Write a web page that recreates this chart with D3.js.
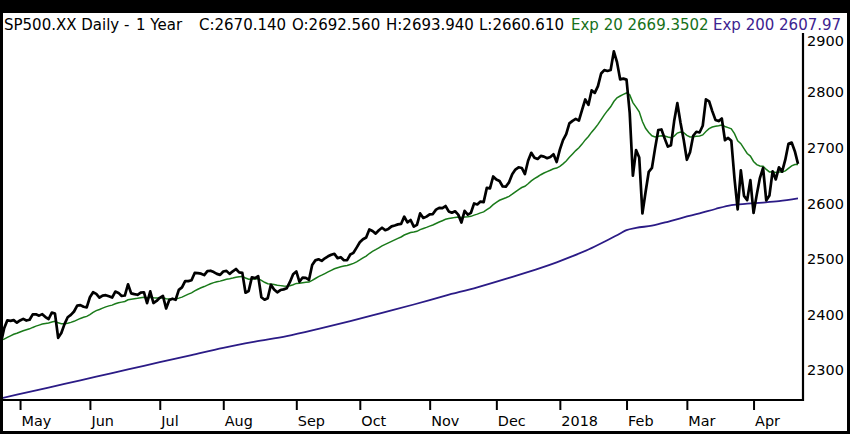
<!DOCTYPE html>
<html>
<head>
<meta charset="utf-8">
<script src="https://cdn.jsdelivr.net/npm/d3@7"></script>
<style>
  body { margin: 0; background: #000; }
  svg { display: block; }
  text { font-family: "DejaVu Sans", sans-serif; }
</style>
</head>
<body>
<script>
// daily closes, 21 Apr 2017 .. 20 Apr 2018 (one per trading session)
var closes = [
  2348.69, 2374.15, 2388.61, 2387.45, 2388.77, 2384.20,
  2388.33, 2391.17, 2388.13, 2389.52, 2399.29, 2399.38, 2396.92, 2399.63, 2394.44, 2390.90, 2402.32, 2400.67, 2357.03, 2365.72, 2381.73, 2394.02, 2398.42, 2404.39, 2415.07, 2415.82, 2412.91, 2411.80,
  2430.06, 2439.07, 2436.10, 2429.33, 2433.14, 2433.79, 2431.77, 2429.39, 2440.35, 2437.92, 2432.46, 2433.15, 2453.46, 2437.03, 2435.61, 2434.50, 2438.30, 2439.07, 2419.38, 2440.69, 2419.70, 2423.41,
  2429.01, 2432.54, 2409.75, 2425.18, 2427.43, 2425.53, 2443.25, 2447.83, 2459.27, 2459.14, 2460.61, 2473.83, 2473.45, 2472.54, 2469.91, 2477.13, 2477.83, 2475.42, 2472.10, 2470.30,
  2476.35, 2477.57, 2472.16, 2476.83, 2480.91, 2474.92, 2474.02, 2438.21, 2441.32, 2465.84, 2464.61, 2468.11, 2430.01, 2425.55, 2428.37, 2452.51, 2444.04, 2438.97, 2443.05, 2444.24, 2446.30, 2457.59, 2471.65,
  2476.55, 2457.85, 2465.54, 2465.10, 2461.43, 2488.11, 2496.48, 2498.37, 2495.62, 2500.23, 2503.87, 2506.65, 2508.24, 2500.60, 2502.22, 2496.66, 2496.84, 2507.04, 2510.06, 2519.36,
  2529.12, 2534.58, 2537.74, 2552.07, 2549.33, 2544.73, 2550.64, 2555.24, 2550.93, 2553.17, 2557.64, 2559.36, 2561.26, 2562.10, 2575.21, 2564.98, 2569.13, 2557.15, 2560.40, 2581.07, 2572.83, 2575.26,
  2579.36, 2579.85, 2587.84, 2591.13, 2590.64, 2594.38, 2584.62, 2582.30, 2584.84, 2578.87, 2564.62, 2585.64, 2578.85, 2582.14, 2599.03, 2597.08, 2602.42, 2601.42, 2627.04, 2626.07, 2647.58,
  2642.22, 2639.44, 2629.57, 2629.27, 2636.98, 2651.50, 2659.99, 2664.11, 2662.85, 2652.01, 2675.81, 2690.16, 2681.47, 2679.25, 2684.57, 2683.34, 2680.50, 2682.62, 2687.54, 2673.61,
  2695.81, 2713.06, 2723.99, 2743.15, 2747.71, 2751.29, 2748.23, 2767.56, 2786.24, 2776.42, 2802.56, 2798.03, 2810.30, 2832.97, 2839.13, 2837.54, 2839.25, 2872.87, 2853.53, 2822.43, 2823.81,
  2821.98, 2762.13, 2648.94, 2695.14, 2681.66, 2581.00, 2619.55, 2656.00, 2662.94, 2698.63, 2731.20, 2732.22, 2716.26, 2701.33, 2703.96, 2747.30, 2779.60, 2744.28, 2713.83,
  2677.67, 2691.25, 2720.94, 2728.12, 2726.80, 2738.97, 2786.57, 2783.02, 2765.31, 2749.48, 2747.33, 2752.01, 2712.92, 2716.94, 2711.93, 2643.69, 2588.26, 2658.55, 2612.62, 2605.00, 2640.87,
  2581.88, 2614.45, 2644.69, 2662.84, 2604.47, 2613.16, 2656.87, 2642.19, 2663.99, 2656.30, 2677.84, 2706.39, 2708.64, 2693.13, 2670.14
];

// Exp 20, one value per session
var exp20 = [
  2352.6, 2354.6, 2357.8, 2360.6, 2363.3, 2365.3, 2367.5, 2369.8, 2371.5, 2373.2,
  2375.7, 2378.0, 2379.8, 2381.7, 2382.9, 2383.7, 2385.4, 2386.9, 2384.0, 2382.3,
  2382.2, 2383.3, 2384.8, 2386.7, 2389.4, 2391.9, 2393.9, 2395.6, 2398.9, 2402.7,
  2405.9, 2408.1, 2410.5, 2412.7, 2414.5, 2415.9, 2418.3, 2420.2, 2421.3, 2422.4,
  2425.4, 2426.5, 2427.4, 2428.1, 2429.0, 2430.0, 2429.0, 2430.1, 2429.1, 2428.6,
  2428.6, 2429.0, 2427.2, 2427.0, 2427.0, 2426.9, 2428.5, 2430.3, 2433.1, 2435.6,
  2438.0, 2441.4, 2444.4, 2447.1, 2449.3, 2451.9, 2454.4, 2456.4, 2457.9, 2459.1,
  2460.7, 2462.3, 2463.3, 2464.6, 2466.1, 2466.9, 2467.6, 2464.8, 2462.6, 2462.9,
  2463.0, 2463.5, 2460.3, 2457.0, 2454.3, 2454.1, 2453.1, 2451.8, 2451.0, 2450.3,
  2450.0, 2450.7, 2452.7, 2455.0, 2455.3, 2456.2, 2457.0, 2457.4, 2460.4, 2463.8,
  2467.1, 2469.8, 2472.7, 2475.7, 2478.6, 2481.4, 2483.3, 2485.1, 2486.2, 2487.2,
  2489.1, 2491.1, 2493.8, 2497.2, 2500.8, 2504.3, 2508.8, 2512.7, 2515.7, 2519.1,
  2522.5, 2525.2, 2527.9, 2530.7, 2533.4, 2536.1, 2538.6, 2542.1, 2544.3, 2546.6,
  2547.6, 2548.8, 2551.9, 2553.9, 2555.9,
  2558.1, 2560.2, 2562.8, 2565.5, 2567.9, 2570.4, 2571.8, 2572.8, 2573.9, 2574.4,
  2573.5, 2574.7, 2575.1, 2575.8, 2578.0, 2579.8, 2582.0, 2583.8, 2587.9, 2591.5,
  2596.8, 2601.1, 2604.7, 2607.1, 2609.2, 2611.8, 2615.6, 2619.8, 2624.0, 2627.7,
  2630.0, 2634.4, 2639.7, 2643.7, 2647.1, 2650.7, 2653.8, 2656.3, 2658.8, 2661.5, 2662.7,
  2665.9, 2670.4, 2675.5, 2682.0, 2688.2, 2694.2, 2699.4, 2705.9, 2713.5, 2719.5,
  2727.4, 2734.1, 2741.4, 2750.1, 2758.6, 2766.1, 2773.1, 2782.6, 2789.4, 2792.5, 2795.5,
  2798.0, 2794.6, 2780.7, 2772.6, 2763.9, 2746.5, 2734.4, 2726.9, 2720.8,
  2718.7, 2719.9, 2721.1, 2720.6, 2718.8, 2717.4, 2720.2, 2725.8, 2727.6, 2726.3,
  2721.7, 2718.8, 2719.0, 2719.9, 2720.6, 2722.4, 2728.5, 2733.7, 2736.7, 2737.9,
  2738.8, 2740.1, 2737.5, 2735.5, 2733.3, 2724.8, 2711.8, 2706.7, 2697.7, 2688.9, 2684.3,
  2674.6, 2668.9, 2666.6, 2666.2, 2660.3, 2655.8, 2655.9, 2654.6, 2655.5, 2655.6, 2657.7, 2662.3, 2666.7, 2669.2, 2669.35
];

// Exp 200, read at a few sessions (it is smooth)
var exp200Day = [0, 10, 20, 30, 40, 50, 60, 70, 80, 90, 100, 110, 120, 130, 140, 150, 160, 170,
  175, 180, 185, 190, 195, 197, 200, 205, 210, 215, 220, 225, 230, 235, 240, 245, 251];
var exp200 = [2248, 2261, 2274, 2287, 2300, 2313, 2326, 2339, 2350, 2360, 2373, 2387, 2402, 2417, 2433, 2448, 2465, 2483,
  2493, 2504, 2516, 2530, 2545, 2551, 2555, 2559, 2566, 2574, 2581, 2589, 2596, 2598.5, 2600.5, 2603, 2607.97];

var monthLabels = ["May", "Jun", "Jul", "Aug", "Sep", "Oct", "Nov", "Dec", "2018", "Feb", "Mar", "Apr"];
var monthStart = [6, 28, 50, 70, 93, 113, 135, 156, 176, 197, 216, 237];
var priceTicks = [2300, 2400, 2500, 2600, 2700, 2800, 2900];

var W = 850, H = 434;
var svg = d3.select("body").append("svg").attr("width", W).attr("height", H);

// black frame round a white sheet
svg.append("rect").attr("width", W).attr("height", H).attr("fill", "#000");
svg.append("rect").attr("x", 3).attr("y", 13).attr("width", 844).attr("height", 418).attr("fill", "#fff");

var x = d3.scaleLinear().domain([0, closes.length - 1]).range([1, 798]);
var y = d3.scaleLinear().domain([2245, 2942]).range([400, 13]);

svg.append("clipPath").attr("id", "plot")
  .append("rect").attr("x", 3).attr("y", 13).attr("width", 800).attr("height", 387);

var plot = svg.append("g").attr("clip-path", "url(#plot)");

var line200 = d3.line()
  .x(function (d, i) { return x(exp200Day[i]); })
  .y(function (d) { return y(d); })
  .curve(d3.curveMonotoneX);

var lineDaily = d3.line()
  .x(function (d, i) { return x(i); })
  .y(function (d) { return y(d); });

plot.append("path").datum(exp200).attr("d", line200)
  .attr("fill", "none").attr("stroke", "#2b1b86").attr("stroke-width", 1.8);

plot.append("path").datum(exp20).attr("d", lineDaily)
  .attr("fill", "none").attr("stroke", "#1a7a1a").attr("stroke-width", 1.5);

plot.append("path").datum(closes).attr("d", lineDaily)
  .attr("fill", "none").attr("stroke", "#000").attr("stroke-width", 2.7)
  .attr("stroke-linejoin", "round");

// borders
svg.append("line").attr("x1", 3).attr("x2", 804).attr("y1", 400).attr("y2", 400)
  .attr("stroke", "#000").attr("stroke-width", 2.2);
svg.append("line").attr("x1", 803).attr("x2", 803).attr("y1", 33).attr("y2", 401)
  .attr("stroke", "#000").attr("stroke-width", 2.2);

// month axis
var xAxis = svg.append("g").attr("transform", "translate(0,401)")
  .call(d3.axisBottom(x).tickValues(monthStart).tickSize(9)
    .tickFormat(function (d, i) { return monthLabels[i]; }));
xAxis.select(".domain").remove();
xAxis.selectAll(".tick line").attr("stroke", "#000").attr("stroke-width", 2);
xAxis.selectAll(".tick text")
  .attr("y", 15).attr("x", 1).attr("dy", "0.71em")
  .attr("text-anchor", "start").attr("fill", "#000")
  .style("font-size", "14.4px").style("font-family", "'DejaVu Sans', sans-serif");

// price axis
var yAxis = svg.append("g").attr("transform", "translate(803,0)")
  .call(d3.axisRight(y).tickValues(priceTicks).tickSize(0).tickPadding(4)
    .tickFormat(d3.format("d")));
yAxis.select(".domain").remove();
yAxis.selectAll(".tick").attr("transform", function (d) {
  return "translate(0," + Math.max(y(d) + 1, 41.5) + ")";
});
yAxis.selectAll(".tick text").attr("fill", "#000")
  .style("font-size", "14.5px").style("font-family", "'DejaVu Sans', sans-serif");

// header
var header = [
  { t: "SP500.XX Daily -", x: 4, c: "#000" },
  { t: "1 Year", x: 136, c: "#000" },
  { t: "C:2670.140", x: 199, c: "#000" },
  { t: "O:2692.560", x: 292, c: "#000" },
  { t: "H:2693.940", x: 386, c: "#000" },
  { t: "L:2660.610", x: 479, c: "#000" },
  { t: "Exp 20 2669.3502", x: 571, c: "#16701a" },
  { t: "Exp 200 2607.97", x: 713, c: "#3d2390" }
];
svg.selectAll("text.hdr").data(header).enter().append("text")
  .attr("class", "hdr")
  .attr("x", function (d) { return d.x; })
  .attr("y", 29.5)
  .attr("fill", function (d) { return d.c; })
  .style("font-size", "15px")
  .text(function (d) { return d.t; });
</script>
</body>
</html>
